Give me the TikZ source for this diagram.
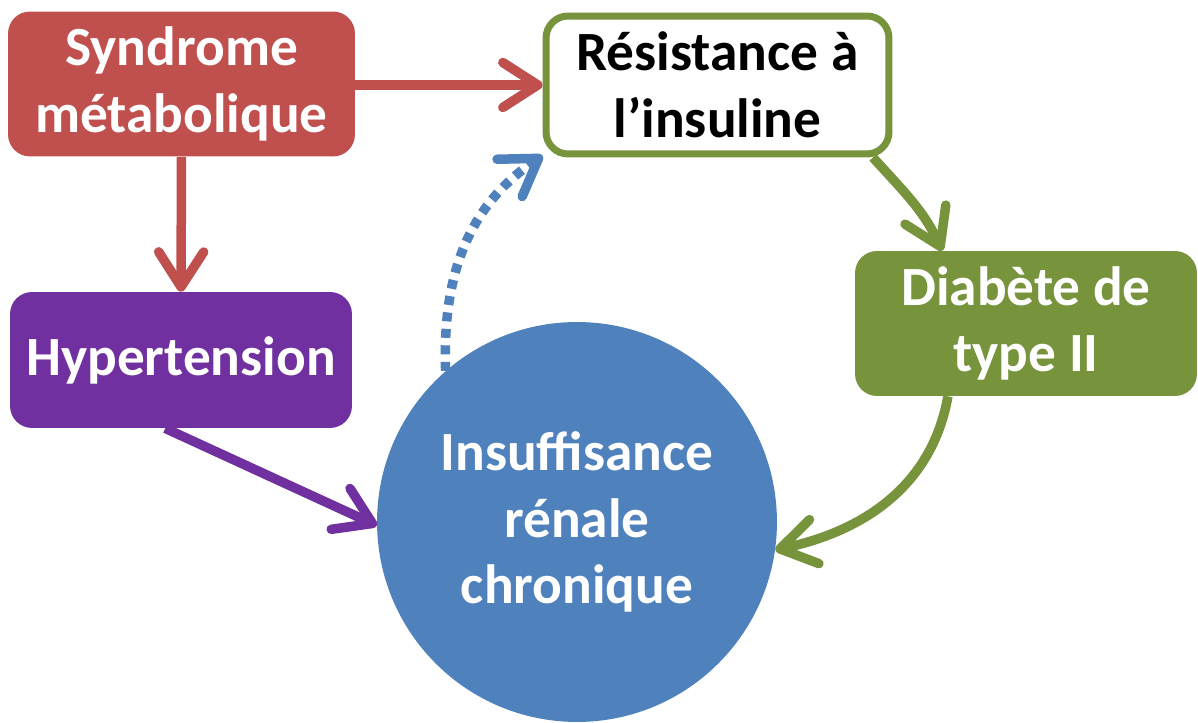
\documentclass[tikz,border=0pt]{standalone}
\usepackage{fontspec}
\setmainfont{Carlito}
\usetikzlibrary{arrows.meta}
\definecolor{synred}{HTML}{C0504D}
\definecolor{insgreen}{HTML}{77933C}
\definecolor{hyppurple}{HTML}{7030A0}
\definecolor{irblue}{HTML}{4F81BD}

\begin{document}
\begin{tikzpicture}[x=0.02cm,y=0.02cm,
    box/.style={rectangle, rounded corners=4.4mm, inner sep=0pt, align=center,
        text=white, font=\fontsize{31.5}{38}\selectfont\bfseries},
    link/.style={line width=1.9mm, -{Straight Barb[round,length=7mm,width=9mm]}}]
\useasboundingbox (0,0) rectangle (1198,723);
\node[box, fill=synred, minimum width=6.94cm, minimum height=2.9cm] (syn) at (181.5,639) {Syndrome\\métabolique};
\node[box, draw=insgreen, line width=1.4mm, fill=white, text=black, minimum width=6.86cm, minimum height=2.76cm] (res) at (717.5,638) {Résistance à\\l’insuline};
\node[box, fill=hyppurple, minimum width=6.84cm, minimum height=2.72cm] (hyp) at (181,363) {Hypertension};
\node[box, fill=insgreen, minimum width=6.84cm, minimum height=2.9cm] (dia) at (1026,399.5) {Diabète de\\type II};
\node[box, circle, fill=irblue, minimum size=8cm] (irc) at (577,201) {Insuffisance\\rénale\\chronique};
\draw[link, synred] (syn.east |- res.west) -- (res.west);
\draw[link, synred] (syn.south) -- (hyp.north);
\draw[link, hyppurple] (hyp.257) -- (irc.181);
\draw[link, insgreen] (res.-25) to[out=-48, in=115] (dia.139);
\draw[link, insgreen] (dia.223) to[out=-100, in=12] (irc.-8);
\draw[link, irblue, dash pattern=on 1.8mm off 1.5mm] (irc.131) to[out=92, in=-146] (res.202);
\end{tikzpicture}
\end{document}
